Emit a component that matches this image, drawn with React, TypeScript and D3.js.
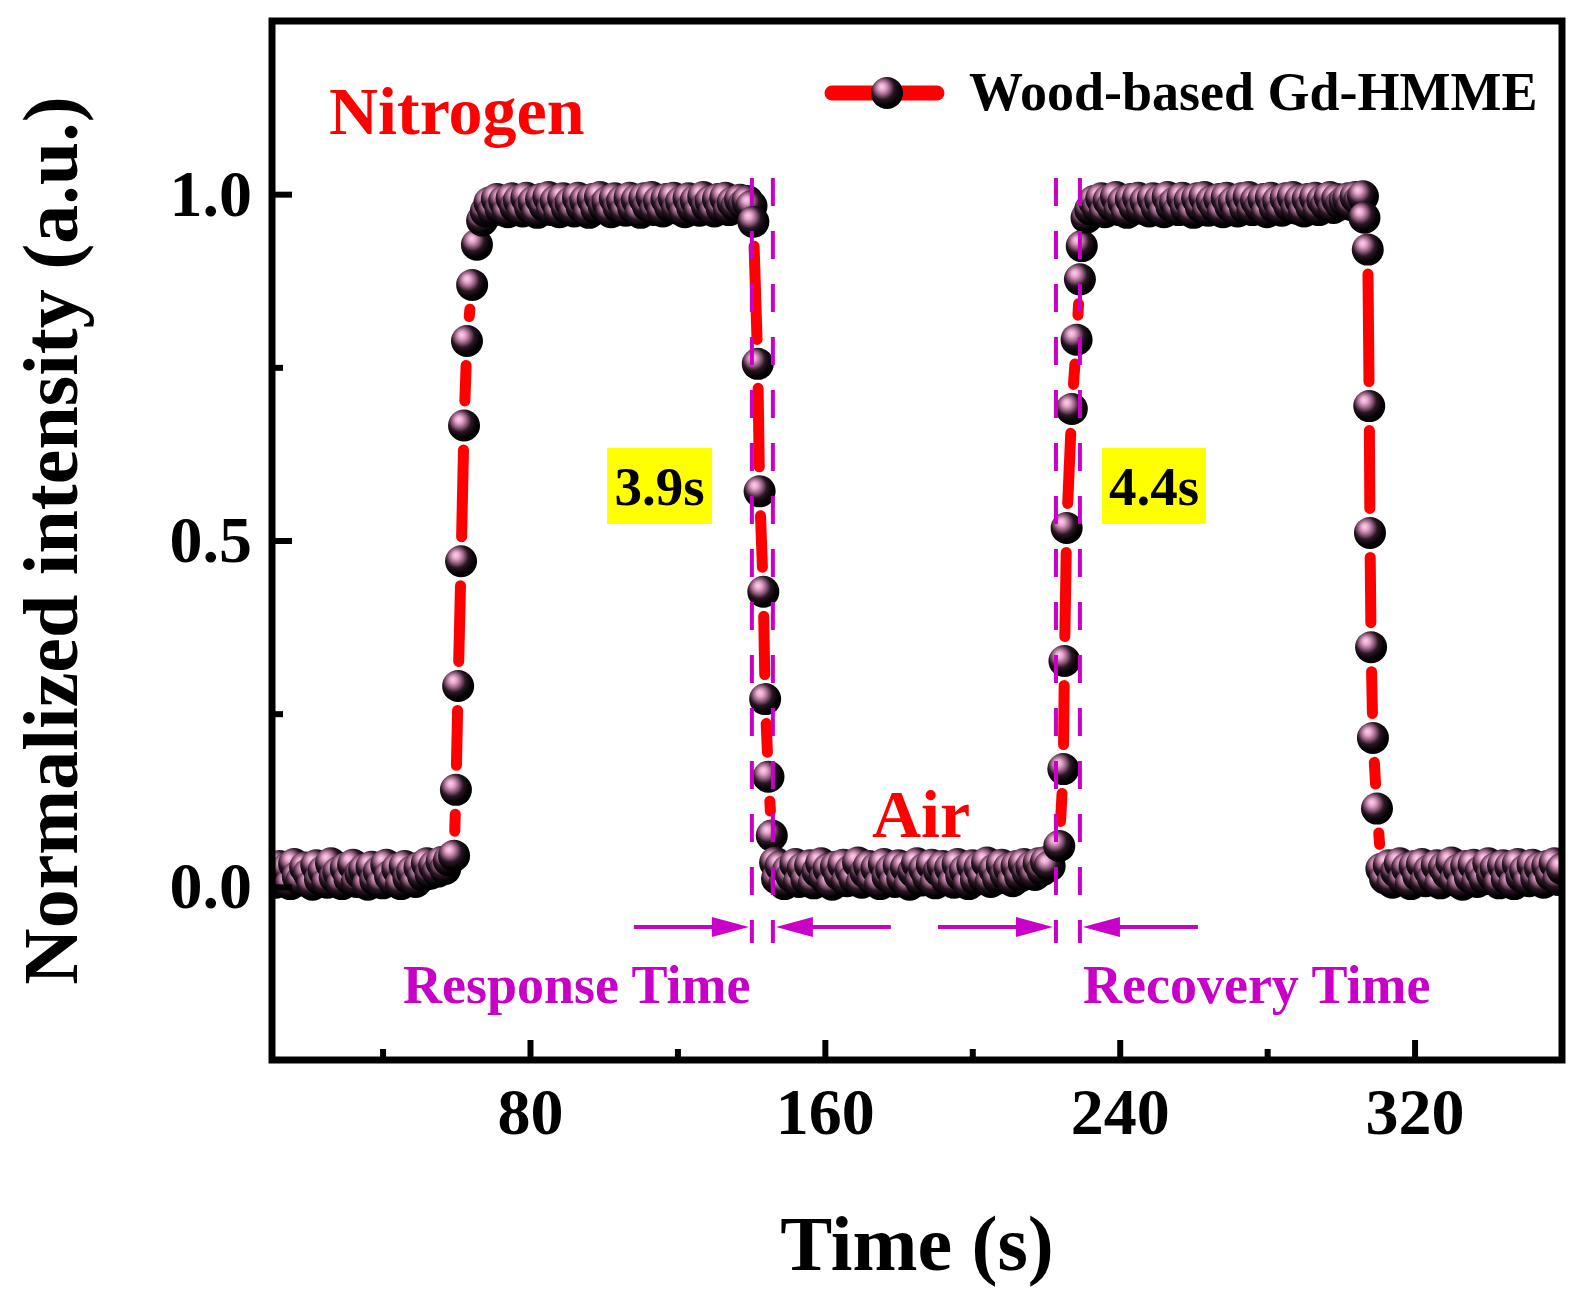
import { useEffect, useRef } from 'react'
import * as d3 from 'd3'

const WIDTH = 1586
const HEIGHT = 1305
const FONT = "'Liberation Serif', 'Times New Roman', serif"
const MAGENTA = '#c800c8'

// plot frame (pixels)
const frame = { left: 272, top: 21, right: 1562, bottom: 1060 }

const xDomain: [number, number] = [10, 360]
const yDomain: [number, number] = [-0.25, 1.25]
const xMajorTicks = [80, 160, 240, 320]
const xMinorTicks = [40, 120, 200, 280]
const yMajorTicks = [0, 0.5, 1.0]
const yMinorTicks = [0.25, 0.75]

// --- data ---
// plateau segments are sampled every 1 s from their start time
const baselineN2Start = 10
const baselineN2 = [
  0.018, 0.006, 0.030, 0.012, 0.026, 0.004, 0.033, 0.015, 0.009, 0.028,
  0.019, 0.003, 0.031, 0.011, 0.023, 0.006, 0.034, 0.014, 0.021, 0.004,
  0.027, 0.012, 0.032, 0.007, 0.019, 0.025, 0.003, 0.029, 0.010, 0.022,
  0.005, 0.032, 0.016, 0.008, 0.026, 0.004, 0.030, 0.013, 0.022, 0.007,
  0.028, 0.016, 0.034, 0.019, 0.030, 0.022, 0.036, 0.026, 0.038,
]
const rise1Time = [59.4, 59.9, 60.5, 61.3, 62.1, 62.9, 64.3, 65.6]
const rise1Value = [0.045, 0.14, 0.29, 0.47, 0.666, 0.788, 0.869, 0.927]
const plateau1Start = 67
const plateau1 = [
  0.962, 0.975, 0.988, 0.976, 0.993, 0.979, 0.990, 0.974, 0.994, 0.982,
  0.991, 0.975, 0.995, 0.981, 0.989, 0.973, 0.993, 0.983, 0.996, 0.977,
  0.990, 0.974, 0.994, 0.980, 0.988, 0.975, 0.995, 0.982, 0.991, 0.973,
  0.993, 0.979, 0.996, 0.983, 0.989, 0.974, 0.994, 0.981, 0.990, 0.976,
  0.995, 0.980, 0.992, 0.973, 0.994, 0.983, 0.996, 0.977, 0.990, 0.975,
  0.993, 0.982, 0.995, 0.979, 0.989, 0.974, 0.994, 0.981, 0.991, 0.976,
  0.996, 0.983, 0.990, 0.975, 0.993, 0.980, 0.995, 0.977, 0.988, 0.982,
  0.992, 0.985, 0.990,
]
const fall1Time = [140.1, 140.6, 141.8, 142.3, 143.3, 143.8, 144.7, 145.6, 146.5]
const fall1Value = [0.983, 0.960, 0.755, 0.571, 0.426, 0.271, 0.159, 0.074, 0.035]
const baselineAirStart = 147
const baselineAir = [
  0.012, 0.030, 0.004, 0.024, 0.015, 0.033, 0.007, 0.027, 0.011, 0.031,
  0.005, 0.022, 0.034, 0.013, 0.026, 0.003, 0.029, 0.017, 0.032, 0.008,
  0.024, 0.012, 0.035, 0.006, 0.021, 0.030, 0.010, 0.027, 0.004, 0.033,
  0.015, 0.025, 0.007, 0.031, 0.012, 0.028, 0.003, 0.022, 0.034, 0.009,
  0.026, 0.014, 0.032, 0.005, 0.023, 0.030, 0.011, 0.027, 0.006, 0.033,
  0.016, 0.024, 0.004, 0.031, 0.010, 0.028, 0.014, 0.035, 0.007, 0.025,
  0.012, 0.032, 0.018, 0.027, 0.008, 0.030, 0.015, 0.033, 0.021, 0.029,
  0.017, 0.034, 0.024, 0.036, 0.030,
]
const rise2Time = [223.6, 224.7, 225.0, 225.6, 227.0, 228.3, 229.2, 229.7]
const rise2Value = [0.059, 0.170, 0.326, 0.518, 0.690, 0.790, 0.877, 0.925]
const plateau2Start = 231
const plateau2 = [
  0.966, 0.978, 0.990, 0.980, 0.994, 0.974, 0.991, 0.983, 0.996, 0.977,
  0.989, 0.973, 0.993, 0.982, 0.995, 0.979, 0.990, 0.975, 0.994, 0.981,
  0.992, 0.974, 0.996, 0.983, 0.988, 0.977, 0.995, 0.980, 0.991, 0.973,
  0.994, 0.982, 0.996, 0.976, 0.990, 0.981, 0.993, 0.974, 0.995, 0.983,
  0.989, 0.975, 0.994, 0.980, 0.996, 0.977, 0.991, 0.982, 0.993, 0.974,
  0.995, 0.981, 0.990, 0.976, 0.994, 0.983, 0.996, 0.979, 0.992, 0.975,
  0.993, 0.982, 0.995, 0.977, 0.991, 0.984, 0.996, 0.980, 0.993, 0.985,
  0.990, 0.994, 0.984, 0.996, 0.991, 0.997,
]
const fall2Time = [306.4, 307.3, 307.7, 307.9, 308.2, 308.7, 309.8]
const fall2Value = [0.966, 0.920, 0.694, 0.511, 0.346, 0.215, 0.113]
const baselineTailStart = 311
const baselineTail = [
  0.026, 0.012, 0.031, 0.006, 0.022, 0.034, 0.010, 0.027, 0.004, 0.030,
  0.016, 0.033, 0.008, 0.024, 0.013, 0.031, 0.005, 0.028, 0.019, 0.035,
  0.009, 0.025, 0.003, 0.030, 0.014, 0.032, 0.007, 0.023, 0.011, 0.034,
  0.018, 0.027, 0.005, 0.031, 0.012, 0.029, 0.004, 0.033, 0.015, 0.024,
  0.008, 0.032, 0.013, 0.028, 0.006, 0.030, 0.017, 0.034, 0.010, 0.026,
]

// annotations
const responseGuides = [140.2, 145.9]
const recoveryGuides = [222.7, 229.2]
const timeBoxes = [
  { label: '3.9s', t0: 100.9, t1: 129.4 },
  { label: '4.4s', t0: 235.2, t1: 263.4 },
]

interface Pt { t: number; v: number }

const uniform = (start: number, vals: number[]): Pt[] => vals.map((v, i) => ({ t: start + i, v }))
const paired = (ts: number[], vs: number[]): Pt[] => ts.map((t, i) => ({ t, v: vs[i] }))

const points: Pt[] = [
  ...uniform(baselineN2Start, baselineN2),
  ...paired(rise1Time, rise1Value),
  ...uniform(plateau1Start, plateau1),
  ...paired(fall1Time, fall1Value),
  ...uniform(baselineAirStart, baselineAir),
  ...paired(rise2Time, rise2Value),
  ...uniform(plateau2Start, plateau2),
  ...paired(fall2Time, fall2Value),
  ...uniform(baselineTailStart, baselineTail),
]

const R = 16
const LINE_W = 11

export default function App() {
  const svgRef = useRef<SVGSVGElement>(null)

  useEffect(() => {
    if (!svgRef.current) return
    const svg = d3.select(svgRef.current)
    svg.selectAll('*').remove()

    const x = d3.scaleLinear().domain(xDomain).range([frame.left, frame.right])
    const y = d3.scaleLinear().domain(yDomain).range([frame.bottom, frame.top])

    const defs = svg.append('defs')
    const grad = defs.append('radialGradient')
      .attr('id', 'ball')
      .attr('cx', 0.4).attr('cy', 0.38).attr('r', 0.62)
      .attr('fx', 0.33).attr('fy', 0.3)
    const stops: [number, string][] = [
      [0, '#fbd2ec'], [0.18, '#e6a6cc'], [0.36, '#9c6688'],
      [0.58, '#2a1624'], [0.82, '#050305'], [1, '#000000'],
    ]
    stops.forEach(([o, c]) => grad.append('stop').attr('offset', o).attr('stop-color', c))

    defs.append('clipPath').attr('id', 'plotClip')
      .append('rect')
      .attr('x', frame.left).attr('y', frame.top)
      .attr('width', frame.right - frame.left).attr('height', frame.bottom - frame.top)

    // --- data line with gaps around symbols ---
    const plot = svg.append('g').attr('clip-path', 'url(#plotClip)')
    const cut = R + 3 + LINE_W / 2
    const segs = d3.pairs(points).map(([a, b]) => {
      const x1 = x(a.t), y1 = y(a.v), x2 = x(b.t), y2 = y(b.v)
      const len = Math.hypot(x2 - x1, y2 - y1)
      if (len <= 2 * cut + 1) return null
      const ux = (x2 - x1) / len, uy = (y2 - y1) / len
      return [x1 + ux * cut, y1 + uy * cut, x2 - ux * cut, y2 - uy * cut]
    }).filter((s): s is number[] => s !== null)

    plot.selectAll('line.seg')
      .data(segs)
      .enter().append('line')
      .attr('class', 'seg')
      .attr('x1', d => d[0]).attr('y1', d => d[1])
      .attr('x2', d => d[2]).attr('y2', d => d[3])
      .attr('stroke', '#ff0000')
      .attr('stroke-width', LINE_W)
      .attr('stroke-linecap', 'round')

    plot.selectAll('circle.dot')
      .data(points)
      .enter().append('circle')
      .attr('class', 'dot')
      .attr('cx', d => x(d.t))
      .attr('cy', d => y(d.v))
      .attr('r', R)
      .attr('fill', 'url(#ball)')

    // --- guides, arrows, labels ---
    const guideTop = y.invert(178)
    const guideBottom = y.invert(943)
    const guides = [...responseGuides, ...recoveryGuides]
    svg.selectAll('line.guide')
      .data(guides)
      .enter().append('line')
      .attr('class', 'guide')
      .attr('x1', d => x(d)).attr('x2', d => x(d))
      .attr('y1', y(guideTop)).attr('y2', y(guideBottom))
      .attr('stroke', MAGENTA)
      .attr('stroke-width', 4)
      .attr('stroke-dasharray', '28 25')

    const arrowY = y(-0.058)
    const arrowDefs = [
      { tip: x(responseGuides[0]) - 3, dir: 1 },
      { tip: x(responseGuides[1]) + 3, dir: -1 },
      { tip: x(recoveryGuides[0]) - 3, dir: 1 },
      { tip: x(recoveryGuides[1]) + 3, dir: -1 },
    ]
    const arrowLen = 115
    const headLen = 37
    const headHalf = 10
    arrowDefs.forEach(({ tip, dir }) => {
      const tail = tip - dir * arrowLen
      const base = tip - dir * headLen
      svg.append('line')
        .attr('x1', tail).attr('x2', base + dir * 2)
        .attr('y1', arrowY).attr('y2', arrowY)
        .attr('stroke', MAGENTA).attr('stroke-width', 4)
      svg.append('path')
        .attr('d', `M${tip},${arrowY}L${base},${arrowY - headHalf}L${base},${arrowY + headHalf}Z`)
        .attr('fill', MAGENTA)
    })

    const label = (txt: string, px: number, py: number, size: number, color: string, anchor = 'start') =>
      svg.append('text')
        .attr('x', px).attr('y', py)
        .attr('text-anchor', anchor)
        .attr('font-family', FONT)
        .attr('font-weight', 'bold')
        .attr('font-size', size)
        .attr('fill', color)
        .text(txt)

    label('Response Time', 403, 1003, 54, MAGENTA)
    label('Recovery Time', 1083, 1003, 54, MAGENTA)
    label('Nitrogen', 329, 134, 68, '#ff0000')
    label('Air', 872, 837, 68, '#ff0000')

    const boxTop = y.invert(448)
    const boxBottom = y.invert(524)
    timeBoxes.forEach(b => {
      svg.append('rect')
        .attr('x', x(b.t0)).attr('y', y(boxTop))
        .attr('width', x(b.t1) - x(b.t0))
        .attr('height', y(boxBottom) - y(boxTop))
        .attr('fill', '#ffff00')
      label(b.label, (x(b.t0) + x(b.t1)) / 2, y(boxBottom) - 19, 55, '#000', 'middle')
    })

    // --- legend ---
    const lg = svg.append('g')
    lg.append('line')
      .attr('x1', 832).attr('x2', 937)
      .attr('y1', 93).attr('y2', 93)
      .attr('stroke', '#ff0000').attr('stroke-width', 15)
      .attr('stroke-linecap', 'round')
    lg.append('circle').attr('cx', 887).attr('cy', 93).attr('r', R).attr('fill', 'url(#ball)')
    label('Wood-based Gd-HMME', 969, 110, 54, '#000')

    // --- axes ---
    const styleAxis = (g: d3.Selection<SVGGElement, unknown, null, undefined>) => {
      g.select('.domain').remove()
      g.selectAll('.tick line').attr('stroke', '#000').attr('stroke-width', 6)
      g.selectAll('.tick text')
        .attr('font-family', FONT)
        .attr('font-weight', 'bold')
        .attr('font-size', 66)
        .attr('fill', '#000')
    }

    svg.append('g')
      .attr('transform', `translate(0,${frame.bottom})`)
      .call(d3.axisBottom(x).tickValues(xMajorTicks).tickSizeInner(-20).tickSizeOuter(0).tickPadding(27).tickFormat(d3.format('d')))
      .call(styleAxis)
    svg.append('g')
      .attr('transform', `translate(0,${frame.bottom})`)
      .call(d3.axisBottom(x).tickValues(xMinorTicks).tickSizeInner(-11).tickSizeOuter(0).tickFormat(() => ''))
      .call(styleAxis)

    svg.append('g')
      .attr('transform', `translate(${frame.left},0)`)
      .call(d3.axisLeft(y).tickValues(yMajorTicks).tickSizeInner(-20).tickSizeOuter(0).tickPadding(20).tickFormat(d3.format('.1f')))
      .call(styleAxis)
    svg.append('g')
      .attr('transform', `translate(${frame.left},0)`)
      .call(d3.axisLeft(y).tickValues(yMinorTicks).tickSizeInner(-11).tickSizeOuter(0).tickFormat(() => ''))
      .call(styleAxis)

    svg.append('rect')
      .attr('x', frame.left).attr('y', frame.top)
      .attr('width', frame.right - frame.left)
      .attr('height', frame.bottom - frame.top)
      .attr('fill', 'none')
      .attr('stroke', '#000')
      .attr('stroke-width', 7)

    // axis titles
    label('Time (s)', (frame.left + frame.right) / 2, 1270, 78, '#000', 'middle')
    svg.append('text')
      .attr('transform', `translate(77,${(frame.top + frame.bottom) / 2}) rotate(-90)`)
      .attr('text-anchor', 'middle')
      .attr('font-family', FONT)
      .attr('font-weight', 'bold')
      .attr('font-size', 78)
      .attr('fill', '#000')
      .text('Normalized intensity (a.u.)')
  }, [])

  return (
    <svg
      ref={svgRef}
      width={WIDTH}
      height={HEIGHT}
      style={{ position: 'absolute', left: 0, top: 0, background: '#fff' }}
    />
  )
}
